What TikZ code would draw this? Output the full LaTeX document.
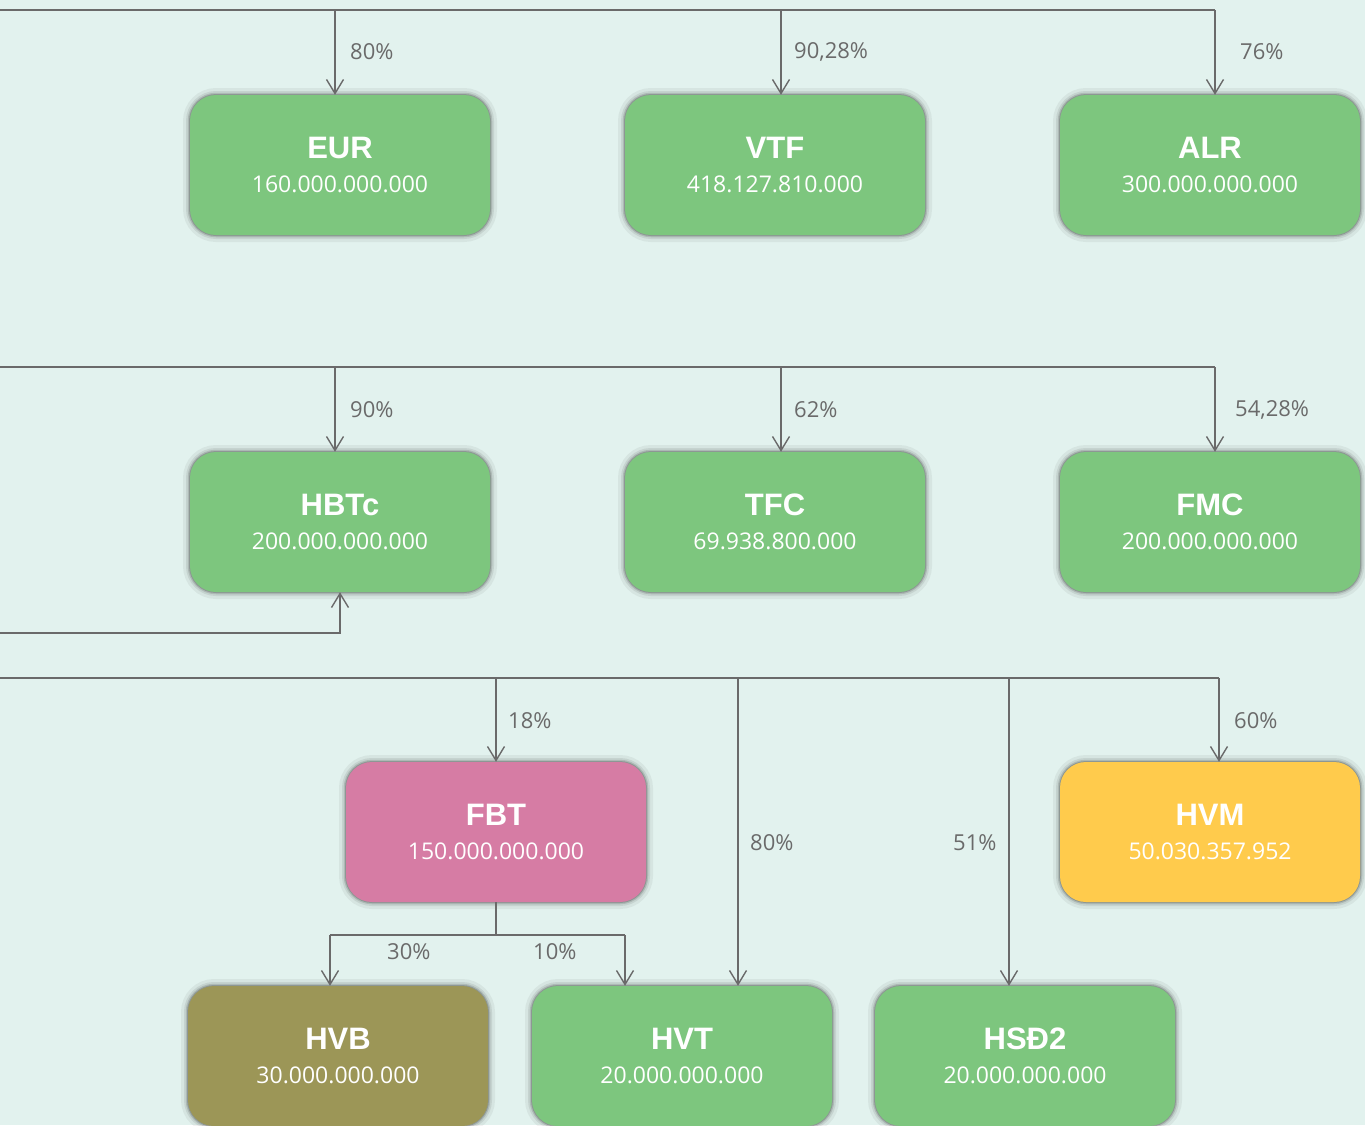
\documentclass[tikz,border=0pt]{standalone}
\usepackage{fontspec}
\setmainfont{Open Sans}
\newfontfamily\namefont{Liberation Sans}
\usetikzlibrary{arrows.meta}
\definecolor{bg}{HTML}{E2F2EE}
\definecolor{gbox}{HTML}{7DC67E}
\definecolor{pbox}{HTML}{D67CA4}
\definecolor{obox}{HTML}{9C9657}
\definecolor{ybox}{HTML}{FFCB4C}
\definecolor{lc}{HTML}{6A6A6A}
\newcommand\bx[2]{{\namefont\bfseries\fontsize{31}{32}\selectfont #1}\\[16pt]{\fontsize{23}{32}\selectfont #2}}
\tikzset{
  box/.style={rounded corners=26pt, minimum width=300pt, minimum height=140pt,
    inner sep=0pt, align=center, text=white, fill=#1, text depth=0pt,
    preaction={draw=black, draw opacity=0.05, line width=14pt},
    preaction={draw=black, draw opacity=0.08, line width=8pt},
    preaction={draw=black, draw opacity=0.12, line width=4.5pt},
    preaction={draw=black, draw opacity=0.18, line width=2pt}},
  ln/.style={draw=lc, line width=1.4pt},
  arr/.style={-{Straight Barb[length=14pt,width=17pt]}},
  lbl/.style={anchor=west, text=lc, inner sep=0pt, font=\fontsize{22}{24}\selectfont}
}
\begin{document}
\begin{tikzpicture}[x=1pt,y=-1pt]
\fill[bg] (0,0) rectangle (1365,1125);
\useasboundingbox (0,0) rectangle (1365,1125);
% boxes
\node[box=gbox] (eur) at (340,165) {\bx{EUR}{160.000.000.000}};
\node[box=gbox] (vtf) at (775,165) {\bx{VTF}{418.127.810.000}};
\node[box=gbox] (alr) at (1210,165) {\bx{ALR}{300.000.000.000}};
\node[box=gbox] (hbtc) at (340,522) {\bx{HBTc}{200.000.000.000}};
\node[box=gbox] (tfc) at (775,522) {\bx{TFC}{69.938.800.000}};
\node[box=gbox] (fmc) at (1210,522) {\bx{FMC}{200.000.000.000}};
\node[box=pbox] (fbt) at (496,832) {\bx{FBT}{150.000.000.000}};
\node[box=ybox] (hvm) at (1210,832) {\bx{HVM}{50.030.357.952}};
\node[box=obox] (hvb) at (338,1056) {\bx{HVB}{30.000.000.000}};
\node[box=gbox] (hvt) at (682,1056) {\bx{HVT}{20.000.000.000}};
\node[box=gbox] (hsd) at (1025,1056) {\bx{HSĐ2}{20.000.000.000}};
% row 1
\coordinate (L1) at (0,10); \coordinate (R1) at (1215,10);
\coordinate (a1) at (335,10); \coordinate (a2) at (781,10);
\draw[ln] (L1) -- (R1);
\draw[ln,arr] (a1) -- (eur.north -| a1);
\draw[ln,arr] (a2) -- (vtf.north -| a2);
\draw[ln,arr] (R1) -- (alr.north -| R1);
% row 2
\coordinate (L2) at (0,367); \coordinate (R2) at (1215,367);
\coordinate (b1) at (335,367); \coordinate (b2) at (781,367);
\draw[ln] (L2) -- (R2);
\draw[ln,arr] (b1) -- (hbtc.north -| b1);
\draw[ln,arr] (b2) -- (tfc.north -| b2);
\draw[ln,arr] (R2) -- (fmc.north -| R2);
% feedback into HBTc
\coordinate (L3) at (0,633);
\draw[ln,arr] (L3) -| (hbtc.south);
% row 3
\coordinate (L4) at (0,678); \coordinate (R4) at (1219,678);
\coordinate (c1) at (496,678); \coordinate (c2) at (738,678); \coordinate (c3) at (1009,678);
\draw[ln] (L4) -- (R4);
\draw[ln,arr] (c1) -- (fbt.north);
\draw[ln,arr] (c2) -- (hvt.north -| c2);
\draw[ln,arr] (c3) -- (hsd.north -| c3);
\draw[ln,arr] (R4) -- (hvm.north -| R4);
% FBT branches
\coordinate (f) at (496,935); \coordinate (fl) at (330,935); \coordinate (fr) at (625,935);
\draw[ln] (fbt.south) -- (f);
\draw[ln] (fl) -- (fr);
\draw[ln,arr] (fl) -- (hvb.north -| fl);
\draw[ln,arr] (fr) -- (hvt.north -| fr);
% labels
\node[lbl] (l1) at (350,52) {80\%};
\node[lbl] (l2) at (794,52) {90,28\%};
\node[lbl] (l3) at (1240,52) {76\%};
\node[lbl] (l4) at (350,410) {90\%};
\node[lbl] (l5) at (794,410) {62\%};
\node[lbl] (l6) at (1235,410) {54,28\%};
\node[lbl] (l7) at (508,721) {18\%};
\node[lbl] (l8) at (1234,721) {60\%};
\node[lbl] (l9) at (750,843) {80\%};
\node[lbl] (l10) at (953,843) {51\%};
\node[lbl] (l11) at (387,952) {30\%};
\node[lbl] (l12) at (533,952) {10\%};
\end{tikzpicture}
\end{document}
